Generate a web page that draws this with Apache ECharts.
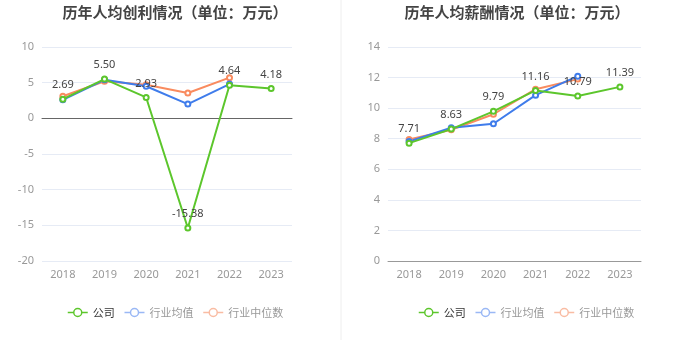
<!DOCTYPE html>
<html><head><meta charset="utf-8">
<script src="https://cdn.jsdelivr.net/npm/echarts@6/dist/echarts.min.js"></script>
<style>html,body{margin:0;padding:0;background:#fff}#c{width:680px;height:349px}</style>
</head><body><div id="c"></div>
<script>
const years = ['2018','2019','2020','2021','2022','2023'];
const profitCompany = [2.69, 5.50, 2.93, -15.38, 4.64, 4.18];
const profitMean = [2.6, 5.4, 4.5, 2.0, 4.8, null];
const profitMedian = [3.1, 5.2, 4.7, 3.55, 5.7, null];
const salaryCompany = [7.71, 8.63, 9.79, 11.16, 10.79, 11.39];
const salaryMean = [7.82, 8.72, 8.98, 10.85, 12.09, null];
const salaryMedian = [7.95, 8.59, 9.6, 11.24, 11.9, null];
const seriesNames = ['公司','行业均值','行业中位数'];

const C = {green:'#5cc62c', blue:'#3f7ceb', orange:'#f98b5f'};
const L = {green:'#5cc62c', blue:'#9ab8f5', orange:'#f9bca3'};
const chart = echarts.init(document.getElementById('c'));
const axLbl = {color:'#999', fontSize:11, fontFamily:'Noto Sans, sans-serif'};
function line(name, data, color, xi, yi, lbl){
  return {name, type:'line', data, xAxisIndex:xi, yAxisIndex:yi, symbol:'emptyCircle', symbolSize:5,
    lineStyle:{width:2,color}, itemStyle:{color, borderWidth:1.5}, z: lbl?3:2,
    label:{show:!!lbl, position:'top', color:'#444', fontSize:11, fontFamily:'Noto Sans, sans-serif', formatter:p=>p.value.toFixed(2)}};
}
const ICON = 'path://M0,5 L6,5 M14,5 L20,5 M14,5 A4,4 0 1 1 6,5 A4,4 0 1 1 14,5 Z';
function legendData(){
  return [
    {name:seriesNames[0], icon:ICON, itemStyle:{color:'#fff',borderColor:L.green,borderWidth:1.5}, textStyle:{color:'#333'}},
    {name:seriesNames[1], icon:ICON, itemStyle:{color:'#fff',borderColor:L.blue,borderWidth:1.5}},
    {name:seriesNames[2], icon:ICON, itemStyle:{color:'#fff',borderColor:L.orange,borderWidth:1.5}}
  ];
}
const legendBase = {bottom:26, itemWidth:20, itemHeight:10, itemGap:9,
  textStyle:{fontSize:11,color:'#999',fontFamily:'Noto Sans CJK SC'}};
chart.setOption({
  animation:false,
  title:[
    {text:'历年人均创利情况（单位：万元）', left:170, top:0, textAlign:'center', textStyle:{fontSize:15,fontWeight:'bold',color:'#444',fontFamily:'Noto Sans CJK SC'}},
    {text:'历年人均薪酬情况（单位：万元）', left:512, top:0, textAlign:'center', textStyle:{fontSize:15,fontWeight:'bold',color:'#444',fontFamily:'Noto Sans CJK SC'}}
  ],
  graphic:[{type:'line', shape:{x1:341,y1:0,x2:341,y2:340}, style:{stroke:'#eee',lineWidth:1}}],
  legend:[
    Object.assign({}, legendBase, {left:62, data:legendData()}),
    Object.assign({}, legendBase, {left:413, data:legendData()})
  ],
  grid:[
    {left:42, width:250, top:47, height:214},
    {left:388, width:253, top:47, height:214}
  ],
  xAxis:[
    {gridIndex:0, type:'category', data:years, axisLine:{onZero:true, lineStyle:{color:'#666'}}, axisTick:{alignWithLabel:true, lineStyle:{color:'#666'}}, axisLabel:{show:false}},
    {gridIndex:0, type:'category', data:years, position:'bottom', axisLine:{show:false, onZero:false}, axisTick:{show:false}, axisLabel:axLbl},
    {gridIndex:1, type:'category', data:years, axisLine:{lineStyle:{color:'#999'}}, axisTick:{alignWithLabel:true, lineStyle:{color:'#999'}}, axisLabel:axLbl}
  ],
  yAxis:[
    {gridIndex:0, type:'value', min:-20, max:10, interval:5, axisLabel:axLbl, splitLine:{lineStyle:{color:'#e6ebf5'}}},
    {gridIndex:1, type:'value', min:0, max:14, interval:2, axisLabel:axLbl, splitLine:{lineStyle:{color:'#e6ebf5'}}}
  ],
  series:[
    line('行业中位数', profitMedian, C.orange, 0, 0, false),
    line('行业均值', profitMean, C.blue, 0, 0, false),
    line('公司', profitCompany, C.green, 0, 0, true),
    line('行业中位数', salaryMedian, C.orange, 2, 1, false),
    line('行业均值', salaryMean, C.blue, 2, 1, false),
    line('公司', salaryCompany, C.green, 2, 1, true)
  ]
});
</script></body></html>
